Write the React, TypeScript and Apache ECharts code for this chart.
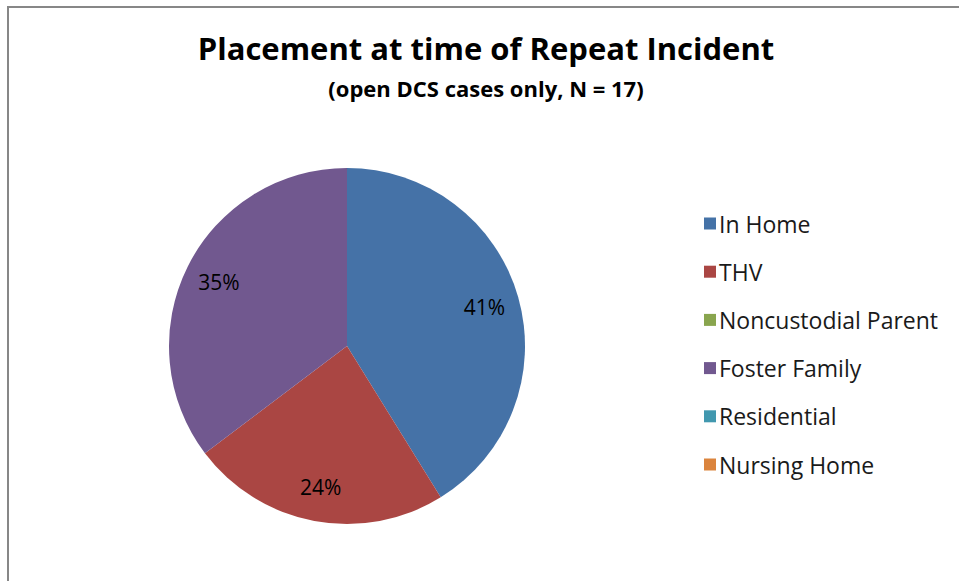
import React, { useEffect, useRef } from "react";
import * as echarts from "echarts";

const categories = ["In Home", "THV", "Noncustodial Parent", "Foster Family", "Residential", "Nursing Home"];
const counts = [7, 4, 0, 6, 0, 0];
const colors = ["#4572A7", "#AA4643", "#89A54E", "#71588F", "#4198AF", "#DB843D"];

const titleText = "Placement at time of Repeat Incident";
const subtitleText = "(open DCS cases only, N = 17)";

const FONT = "'Open Sans', Lato, sans-serif";

export default function App() {
  const ref = useRef<HTMLDivElement>(null);
  useEffect(() => {
    if (!ref.current) return;
    const chart = echarts.init(ref.current, undefined, { renderer: "svg" });
    const data = categories.map((name, i) => ({
      name,
      value: counts[i],
      itemStyle: { color: colors[i] },
    }));
    chart.setOption({
      animation: false,
      backgroundColor: "#ffffff",
      color: colors,
      title: {
        text: titleText,
        subtext: subtitleText,
        left: 481,
        top: 27,
        textAlign: "center",
        itemGap: 14,
        textStyle: { fontFamily: FONT, fontWeight: "bold", fontSize: 31, color: "#000" },
        subtextStyle: { fontFamily: FONT, fontWeight: "bold", fontSize: 22, color: "#000" },
      },
      legend: {
        orient: "vertical",
        left: 699,
        top: 207,
        itemWidth: 12,
        itemHeight: 12,
        itemGap: 25.2,
        icon: "rect",
        selectedMode: false,
        data: categories,
        textStyle: { fontFamily: FONT, fontSize: 23, color: "#1a1a1a", padding: [0, 0, 0, -2] },
      },
      graphic: [
        {
          type: "polyline",
          shape: { points: [[8, 581], [8, 7], [959, 7]] },
          style: { stroke: "#878787", lineWidth: 2, fill: "none" },
          silent: true,
        },
      ],
      series: [
        {
          type: "pie",
          center: [347, 346],
          radius: [0, 178],
          startAngle: 90,
          clockwise: true,
          silent: true,
          label: { show: false },
          labelLine: { show: false },
          itemStyle: { borderWidth: 0 },
          data,
        },
        {
          type: "pie",
          center: [347, 346],
          radius: [102, 178],
          startAngle: 90,
          clockwise: true,
          silent: true,
          percentPrecision: 0,
          itemStyle: { color: "transparent", borderWidth: 0 },
          label: {
            show: true,
            position: "inside",
            fontFamily: FONT,
            fontSize: 21,
            color: "#000",
            formatter: (p: any) => (p.value > 0 ? p.percent + "%" : ""),
          },
          labelLine: { show: false },
          data: categories.map((name, i) => ({ name: name + " ", value: counts[i] })),
        },
      ],
    });
    return () => chart.dispose();
  }, []);
  return (
    <div
      ref={ref}
      style={{ position: "fixed", left: 0, top: 0, width: 959, height: 581 }}
    />
  );
}
